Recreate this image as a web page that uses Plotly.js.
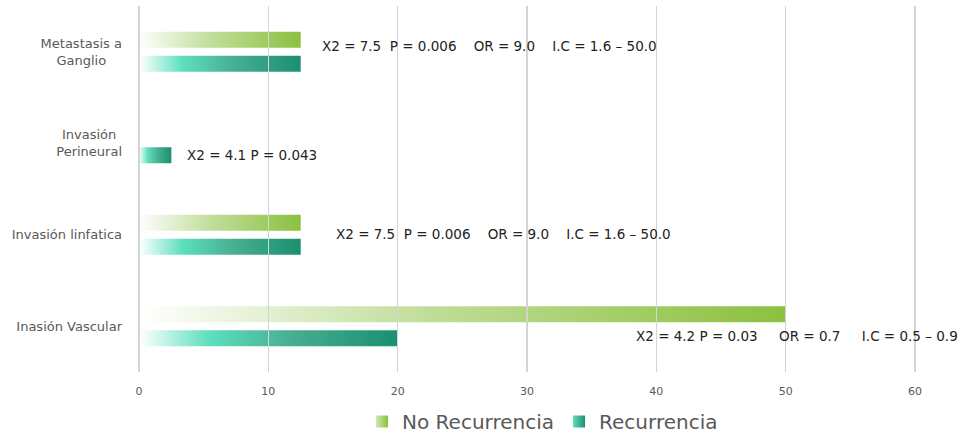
<!DOCTYPE html>
<html>
<head>
<meta charset="utf-8">
<script src="https://cdn.plot.ly/plotly-3.0.1.min.js"></script>
<style>html,body{margin:0;padding:0;background:#fff;}#chart{width:974px;height:440px;}</style>
</head>
<body>
<div id="chart"></div>
<script>
// ---- data ----
const categories = ["Metastasis a<br>Ganglio", "Invasión<br>Perineural", "Invasión linfatica", "Inasión Vascular"];
const seriesNames = ["No Recurrencia", "Recurrencia"];
const noRecurrencia = [12.5, 0, 12.5, 50];
const recurrencia = [12.5, 2.5, 12.5, 20];
const statTexts = [
  "X2 = 7.5  P = 0.006    OR = 9.0    I.C = 1.6 – 50.0",
  "X2 = 4.1 P = 0.043",
  "X2 = 7.5  P = 0.006    OR = 9.0    I.C = 1.6 – 50.0",
  "X2 = 4.2 P = 0.03     OR = 0.7     I.C = 0.5 – 0.9"
];
const statX = [14.0, 3.55, 15.1, 38.3];
const statShift = [5.5, -11.5, 1, -9.5];
const xTicks = [0, 10, 20, 30, 40, 50, 60];

const FONT = "DejaVu Sans, Verdana, sans-serif";
const nb = s => s.replace(/ /g, "\u00A0");

const traces = [
  {type: "bar", orientation: "h", name: seriesNames[0], y: categories, x: noRecurrencia,
   marker: {color: "#a9d46f", line: {width: 0}}, hoverinfo: "none"},
  {type: "bar", orientation: "h", name: seriesNames[1], y: categories, x: recurrencia,
   marker: {color: "#3bb894", line: {width: 0}}, hoverinfo: "none"}
];

const annotations = statTexts.map((t, i) => ({
  x: statX[i], y: categories[i], xref: "x", yref: "y", text: nb(t),
  xanchor: "left", yanchor: "middle", showarrow: false, yshift: statShift[i],
  font: {family: FONT, size: 13.5, color: "#222222"}
}));

const layout = {
  width: 974, height: 440,
  margin: {l: 138, r: 58, t: 6, b: 68, autoexpand: false},
  paper_bgcolor: "#fff", plot_bgcolor: "#fff",
  barmode: "group", bargap: 0.473, bargroupgap: 0.333,
  showlegend: true,
  legend: {orientation: "h", x: 0.52, xanchor: "center", y: -0.082, yanchor: "top",
           font: {family: FONT, size: 20, color: "#595959"}, itemwidth: 30, traceorder: "normal"},
  xaxis: {range: [-0.08, 60.08], tickvals: xTicks, showgrid: true, gridcolor: "#d4d4d4", gridwidth: 1.5,
          zeroline: false, showline: false, ticks: "", ticklabelstandoff: 11,
          tickfont: {family: FONT, size: 11, color: "#595959"}, fixedrange: true},
  yaxis: {autorange: "reversed", type: "category", showgrid: false, zeroline: false, showline: false,
          ticks: "", ticklabelstandoff: 15,
          tickfont: {family: FONT, size: 13, color: "#595959"}, fixedrange: true},
  annotations: annotations,
  font: {family: FONT}
};

Plotly.newPlot("chart", traces, layout, {staticPlot: true, displayModeBar: false}).then(() => {
  const svgNS = "http://www.w3.org/2000/svg";
  const svg = document.querySelector("#chart .main-svg");
  let defs = svg.querySelector("defs");
  if (!defs) { defs = document.createElementNS(svgNS, "defs"); svg.insertBefore(defs, svg.firstChild); }
  function grad(id, stops) {
    const g = document.createElementNS(svgNS, "linearGradient");
    g.setAttribute("id", id);
    g.setAttribute("x1", "0"); g.setAttribute("y1", "0"); g.setAttribute("x2", "1"); g.setAttribute("y2", "0");
    stops.forEach(s => {
      const st = document.createElementNS(svgNS, "stop");
      st.setAttribute("offset", s[0]); st.setAttribute("stop-color", s[1]);
      g.appendChild(st);
    });
    defs.appendChild(g);
  }
  grad("gNR", [[0, "#ffffff"], [0.45, "#c0dd98"], [1, "#8bc13f"]]);
  grad("gR", [[0, "#ffffff"], [0.27, "#5ddfbd"], [0.6, "#46ad90"], [1, "#1a9070"]]);
  grad("gNRl", [[0, "#cfe6ad"], [1, "#8bc13f"]]);
  grad("gRl", [[0, "#62dcbb"], [1, "#1a9070"]]);
  const ids = ["gNR", "gR"], lids = ["gNRl", "gRl"];
  document.querySelectorAll("#chart .barlayer .trace").forEach((tr, i) => {
    tr.querySelectorAll("path").forEach(p => { p.style.fill = "url(#" + ids[i] + ")"; });
  });
  document.querySelectorAll("#chart .legend .traces").forEach((tr, i) => {
    tr.querySelectorAll(".legendpoints path").forEach(p => { p.style.fill = "url(#" + lids[i] + ")"; });
  });
  // gridlines drawn above bars
  const sp = document.querySelector("#chart .cartesianlayer .subplot.xy");
  const gl = sp && sp.querySelector(".gridlayer");
  if (gl) sp.appendChild(gl);
  // center multi-line category labels
  document.querySelectorAll("#chart .yaxislayer-above .ytick text").forEach(t => {
    const lines = t.querySelectorAll("tspan.line");
    if (lines.length > 1) {
      const w = t.getBBox().width;
      const x0 = parseFloat(t.getAttribute("x"));
      t.setAttribute("text-anchor", "middle");
      t.setAttribute("x", x0 - w / 2);
      lines.forEach(l => l.setAttribute("x", x0 - w / 2));
    }
  });
});
</script>
</body>
</html>
